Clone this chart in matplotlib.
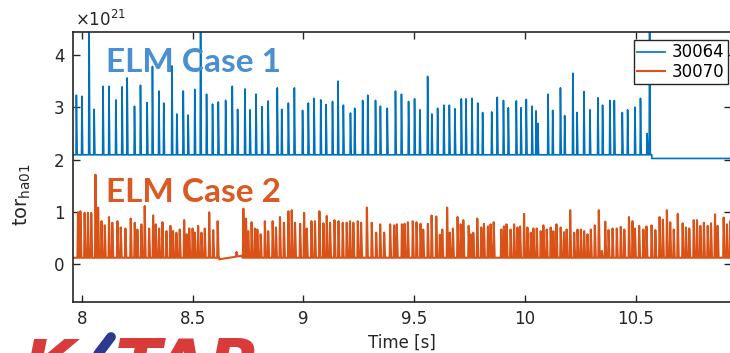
import numpy as np
import matplotlib
matplotlib.use("Agg")
import matplotlib.pyplot as plt
from matplotlib.lines import Line2D

# ---------------- data (units of 1e21) ----------------
blue_label = "30064"
orange_label = "30070"

blue_spike_t = [7.976, 8.001, 8.033, 8.056, 8.096, 8.123, 8.154, 8.182, 8.205, 8.238,
                8.265, 8.295, 8.319, 8.348, 8.370, 8.407, 8.429, 8.458, 8.480, 8.510,
                8.536, 8.563, 8.590, 8.616, 8.649, 8.679, 8.703, 8.736, 8.759, 8.786,
                8.813, 8.841, 8.882, 8.902, 8.932, 8.959, 8.996, 9.022, 9.048, 9.078,
                9.102, 9.131, 9.156, 9.180, 9.212, 9.231, 9.267, 9.290, 9.325, 9.347,
                9.378, 9.415, 9.442, 9.474, 9.501, 9.525, 9.560, 9.579, 9.605, 9.633,
                9.658, 9.683, 9.712, 9.733, 9.760, 9.786, 9.808, 9.849, 9.874, 9.902,
                9.924, 9.960, 9.981, 10.005, 10.031, 10.049, 10.057, 10.103, 10.124, 10.159,
                10.178, 10.215, 10.234, 10.265, 10.292, 10.328, 10.349, 10.382, 10.402, 10.438,
                10.462, 10.495, 10.520, 10.550, 10.561]
blue_spike_v = [3.23, 3.21, 4.90, 2.96, 3.40, 3.40, 3.14, 3.39, 3.56, 3.02,
                3.42, 3.09, 3.78, 3.31, 3.08, 3.79, 2.87, 3.31, 2.85, 3.34,
                4.90, 3.25, 3.06, 3.10, 3.13, 3.40, 2.96, 3.35, 2.95, 3.25,
                3.01, 3.12, 3.37, 2.96, 3.08, 3.37, 2.94, 3.08, 3.17, 3.14,
                3.05, 3.11, 3.50, 3.04, 2.89, 2.98, 3.13, 3.23, 3.13, 3.02,
                2.98, 3.31, 3.25, 3.11, 3.16, 2.95, 3.59, 2.87, 2.98, 3.04,
                3.04, 2.97, 3.16, 3.16, 3.17, 3.08, 2.90, 2.91, 3.19, 3.13,
                2.99, 3.12, 2.99, 3.15, 3.02, 2.93, 2.69, 3.25, 2.94, 3.37,
                2.84, 3.65, 2.90, 3.30, 2.95, 3.18, 3.04, 3.13, 3.13, 2.90,
                2.95, 3.00, 3.17, 2.50, 4.90]
blue_base_before = 2.09
blue_base_after = 2.02
blue_drop_t = 10.571

orange_spike_t = [7.983, 7.994, 8.013, 8.028, 8.043, 8.062, 8.074, 8.089, 8.104, 8.123,
                  8.138, 8.161, 8.176, 8.197, 8.221, 8.239, 8.251, 8.269, 8.284, 8.304,
                  8.322, 8.334, 8.349, 8.364, 8.382, 8.400, 8.412, 8.427, 8.442, 8.462,
                  8.473, 8.485, 8.500, 8.510, 8.525, 8.540, 8.555, 8.575, 8.593, 8.613,
                  8.698, 8.729, 8.741, 8.751, 8.766, 8.781, 8.792, 8.807, 8.826, 8.841,
                  8.861, 8.876, 8.894, 8.912, 8.932, 8.947, 8.962, 8.985, 9.003, 9.015,
                  9.036, 9.052, 9.072, 9.090, 9.105, 9.120, 9.140, 9.158, 9.177, 9.195,
                  9.210, 9.225, 9.245, 9.260, 9.286, 9.308, 9.328, 9.346, 9.364, 9.391,
                  9.409, 9.421, 9.444, 9.456, 9.471, 9.493, 9.510, 9.528, 9.540, 9.561,
                  9.578, 9.599, 9.615, 9.626, 9.648, 9.660, 9.674, 9.695, 9.709, 9.721,
                  9.745, 9.754, 9.766, 9.784, 9.802, 9.814, 9.832, 9.844, 9.858, 9.892,
                  9.904, 9.916, 9.934, 9.950, 9.965, 9.977, 9.995, 10.010, 10.025, 10.037,
                  10.052, 10.070, 10.082, 10.097, 10.115, 10.127, 10.141, 10.160, 10.175, 10.187,
                  10.203, 10.221, 10.236, 10.251, 10.266, 10.281, 10.296, 10.314, 10.332, 10.346,
                  10.361, 10.376, 10.394, 10.413, 10.431, 10.447, 10.468, 10.484, 10.495, 10.514,
                  10.533, 10.547, 10.570, 10.587, 10.606, 10.621, 10.639, 10.654, 10.670, 10.688,
                  10.710, 10.725, 10.740, 10.760, 10.775, 10.790, 10.806, 10.823, 10.838, 10.856,
                  10.868, 10.895, 10.910, 10.925]
orange_spike_v = [0.99, 1.01, 0.98, 0.98, 0.98, 1.71, 1.08, 0.82, 0.74, 0.90,
                  0.79, 0.82, 0.70, 0.68, 0.87, 0.79, 0.66, 0.76, 1.11, 0.68,
                  0.93, 0.76, 0.68, 0.80, 0.63, 0.73, 0.63, 0.60, 0.66, 0.84,
                  0.57, 0.68, 0.68, 0.60, 0.73, 0.60, 0.68, 0.99, 0.65, 0.82,
                  0.23, 1.06, 0.87, 0.63, 0.80, 0.68, 0.66, 0.57, 0.82, 0.63,
                  0.82, 0.70, 0.90, 0.79, 1.01, 1.03, 0.79, 0.77, 0.98, 0.68,
                  0.82, 0.82, 1.01, 0.78, 0.92, 0.79, 0.84, 0.82, 0.79, 0.79,
                  0.82, 0.79, 0.82, 0.79, 1.08, 0.79, 0.60, 0.76, 0.60, 0.76,
                  0.74, 0.76, 0.76, 0.77, 0.80, 0.82, 0.80, 0.77, 0.66, 0.77,
                  0.93, 0.91, 0.56, 0.66, 1.08, 0.60, 0.68, 0.90, 0.76, 0.84,
                  0.73, 0.57, 0.60, 0.87, 0.70, 0.77, 0.72, 0.76, 0.80, 0.66,
                  0.72, 0.76, 0.66, 0.76, 0.70, 0.72, 0.96, 0.70, 0.60, 0.68,
                  0.68, 0.63, 0.74, 0.66, 0.70, 0.63, 0.76, 0.70, 0.61, 0.66,
                  1.03, 0.60, 0.66, 0.66, 0.63, 0.57, 0.66, 0.74, 1.03, 0.25,
                  0.81, 0.65, 0.68, 0.68, 0.71, 0.66, 0.90, 0.82, 0.68, 0.73,
                  0.66, 0.72, 0.74, 0.65, 0.90, 0.85, 1.03, 0.80, 0.66, 0.96,
                  0.78, 0.70, 0.68, 0.84, 0.84, 0.73, 0.79, 0.73, 0.78, 0.95,
                  0.73, 0.89, 0.76, 0.82]
orange_base = 0.12
orange_gap_t = [8.620, 8.725]
orange_gap_v = [0.09, 0.16]

x_ticks = [8, 8.5, 9, 9.5, 10, 10.5]
x_tick_labels = ["8", "8.5", "9", "9.5", "10", "10.5"]
y_ticks = [0, 1, 2, 3, 4]
x_range = (7.9607, 10.9282)
y_range = (-0.727, 4.44)

BLUE = "#0072BD"
ORANGE = "#D95319"


def spike_series(ts, vs, base_fn, t0, t1, knots=(), rise=0.0018, fall=0.0035):
    pts = [(t0, base_fn(t0)), (t1, base_fn(t1))]
    for k in knots:
        pts.append((k - 1e-4, base_fn(k - 1e-4)))
        pts.append((k + 1e-4, base_fn(k + 1e-4)))
    for t, v in zip(ts, vs):
        pts += [(t - rise, base_fn(t - rise)), (t, v), (t + fall, base_fn(t + fall))]
    pts.sort(key=lambda p: p[0])
    arr = np.array(pts)
    return arr[:, 0], arr[:, 1]


def blue_base(t):
    return blue_base_before if t < blue_drop_t else blue_base_after


def orange_base_fn(t):
    if orange_gap_t[0] <= t <= orange_gap_t[1]:
        return float(np.interp(t, orange_gap_t, orange_gap_v))
    return orange_base


bx, by = spike_series(blue_spike_t, blue_spike_v, blue_base, x_range[0], x_range[1],
                      knots=[blue_drop_t])
ox, oy = spike_series(orange_spike_t, orange_spike_v, orange_base_fn, x_range[0], x_range[1],
                      knots=orange_gap_t, rise=0.0022, fall=0.0045)

# ---------------- figure ----------------
W, H = 730, 353
fig = plt.figure(figsize=(W / 100, H / 100), dpi=100)
L, R, T, B = 73, 731, 32, 302
ax = fig.add_axes([L / W, 1 - B / H, (R - L) / W, (B - T) / H])

ax.plot(bx, by, color=BLUE, lw=1.2, label=blue_label)
ax.plot(ox, oy, color=ORANGE, lw=1.5, label=orange_label)

ax.set_xlim(*x_range)
ax.set_ylim(*y_range)
ax.set_xticks(x_ticks)
ax.set_xticklabels(x_tick_labels)
ax.set_yticks(y_ticks)
ax.tick_params(direction="in", top=True, right=True, length=5, width=1.0,
               labelsize=12, colors="#262626", pad=6)
for s in ax.spines.values():
    s.set_linewidth(1.2)
    s.set_color("#262626")

ax.set_xlabel("Time [s]", fontsize=12, color="#262626", labelpad=4)
ax.set_ylabel(r"tor$_{\mathrm{ha01}}$", fontsize=14, color="#262626")
ax.yaxis.set_label_coords((33 - L) / (R - L), (B - 195) / (B - T))

fig.text(75 / W, 1 - 26 / H, r"$\times10^{21}$", fontsize=12, color="#262626",
         ha="left", va="baseline")

fig.text(106 / W, 1 - 72 / H, "ELM Case 1", fontsize=24, fontweight="bold",
         family="Lato", color="#4A8FCF", ha="left", va="baseline", zorder=5)
fig.text(106 / W, 1 - 202 / H, "ELM Case 2", fontsize=24, fontweight="bold",
         family="Lato", color="#DA5A24", ha="left", va="baseline", zorder=5)

leg = fig.legend(loc="upper right", bbox_to_anchor=(728 / W, 1 - 40 / H),
                 bbox_transform=fig.transFigure, fontsize=12, frameon=True,
                 fancybox=False, edgecolor="#262626", framealpha=1,
                 borderpad=0.2, labelspacing=0.1, handlelength=1.7,
                 handletextpad=0.4, borderaxespad=0)
leg.get_frame().set_linewidth(1.0)

# KSTAR logo (partially visible at bottom)
fig.text(23 / W, 1 - 388 / H, "K", fontsize=49, fontweight="bold", style="italic",
         color="#D93A3A", ha="left", va="baseline")
fig.text(115 / W, 1 - 388 / H, "TAR", fontsize=49, fontweight="bold", style="italic",
         color="#D93A3A", ha="left", va="baseline")
fig.add_artist(Line2D([92 / W, 111 / W], [1 - 362 / H, 1 - 337 / H],
                      transform=fig.transFigure, color="#2B3A8F", lw=7,
                      solid_capstyle="round"))

fig.savefig("out.png", dpi=100)
